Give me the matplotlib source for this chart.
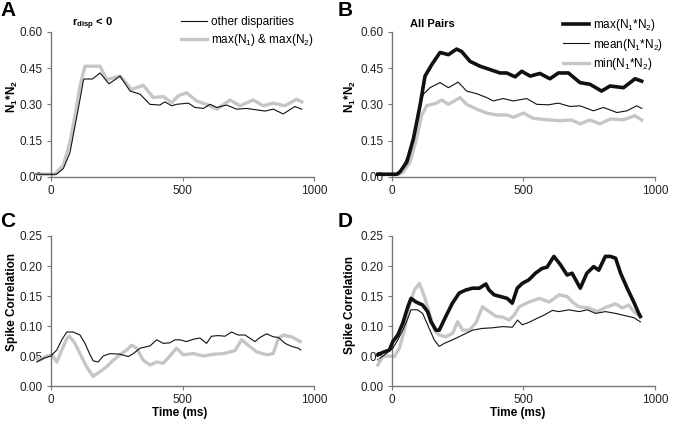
import matplotlib
matplotlib.use("Agg")
import matplotlib.pyplot as plt

plt.rcParams['font.family'] = ['Liberation Sans', 'DejaVu Sans']
plt.rcParams['mathtext.fontset'] = 'custom'
plt.rcParams['mathtext.rm'] = 'Liberation Sans'
plt.rcParams['mathtext.it'] = 'Liberation Sans:italic'
plt.rcParams['mathtext.bf'] = 'Liberation Sans:bold'

# ---- panel A: r_disp < 0 ----
a_other_t = [-55, 22, 48, 73, 92, 111, 124, 127, 158, 187, 221, 263, 301, 339, 376, 414, 433, 459,
             477, 522, 547, 579, 604, 630, 667, 705, 743, 781, 813, 844, 882, 926, 952]
a_other_v = [0.01, 0.01, 0.034, 0.10, 0.21, 0.32, 0.40, 0.405, 0.405, 0.43, 0.385, 0.417, 0.355, 0.342,
             0.30, 0.297, 0.31, 0.294, 0.30, 0.305, 0.287, 0.283, 0.30, 0.287, 0.297, 0.28, 0.283,
             0.277, 0.272, 0.28, 0.26, 0.291, 0.28]
a_max_t = [-55, 15, 48, 73, 92, 111, 130, 187, 212, 263, 307, 351, 389, 427, 459, 484, 515, 553, 591,
           630, 680, 718, 768, 806, 844, 888, 933, 952]
a_max_v = [0.01, 0.01, 0.048, 0.143, 0.253, 0.376, 0.458, 0.458, 0.403, 0.417, 0.362, 0.379, 0.328,
           0.332, 0.307, 0.335, 0.348, 0.314, 0.30, 0.28, 0.318, 0.294, 0.318, 0.294, 0.305, 0.294,
           0.321, 0.31]

# ---- panel B: all pairs ----
b_max_t = [-55, 20, 32, 58, 83, 108, 127, 153, 184, 216, 247, 266, 298, 336, 374, 412, 437, 469, 494,
           526, 563, 601, 633, 671, 715, 753, 797, 829, 880, 924, 949]
b_max_v = [0.01, 0.01, 0.02, 0.06, 0.157, 0.294, 0.417, 0.465, 0.515, 0.506, 0.529, 0.519, 0.478,
           0.458, 0.444, 0.43, 0.43, 0.414, 0.437, 0.417, 0.428, 0.406, 0.43, 0.43, 0.39, 0.383,
           0.355, 0.376, 0.369, 0.406, 0.396]
b_mean_t = [-55, 22, 39, 64, 89, 108, 121, 146, 184, 216, 253, 285, 323, 361, 386, 424, 462, 513, 551,
            595, 633, 677, 715, 766, 804, 855, 893, 930, 949]
b_mean_v = [0.01, 0.01, 0.034, 0.089, 0.198, 0.294, 0.342, 0.369, 0.39, 0.369, 0.392, 0.355, 0.344,
            0.328, 0.314, 0.324, 0.314, 0.324, 0.30, 0.298, 0.305, 0.291, 0.294, 0.273, 0.287, 0.266,
            0.273, 0.294, 0.283]
b_min_t = [-55, 30, 45, 70, 95, 114, 133, 171, 190, 216, 260, 285, 323, 361, 399, 437, 462, 500, 538,
           588, 639, 683, 715, 753, 791, 829, 880, 924, 949]
b_min_v = [0.01, 0.01, 0.02, 0.06, 0.157, 0.253, 0.294, 0.305, 0.318, 0.30, 0.328, 0.30, 0.28, 0.264,
           0.256, 0.256, 0.246, 0.264, 0.242, 0.236, 0.232, 0.235, 0.219, 0.235, 0.219, 0.239,
           0.236, 0.253, 0.235]

# ---- panel C: spike correlation, r_disp < 0 ----
c_other_t = [-53, -28, 0, 23, 42, 61, 85, 111, 130, 149, 161, 180, 199, 225, 263, 294, 313, 339, 377,
             402, 427, 452, 471, 490, 515, 541, 566, 591, 610, 636, 661, 686, 711, 737, 775, 794,
             819, 844, 863, 889, 914, 939, 948]
c_other_v = [0.04, 0.046, 0.05, 0.06, 0.077, 0.09, 0.09, 0.085, 0.071, 0.052, 0.042, 0.04, 0.05,
             0.054, 0.053, 0.049, 0.054, 0.063, 0.067, 0.077, 0.071, 0.072, 0.077, 0.077, 0.074,
             0.078, 0.08, 0.071, 0.083, 0.084, 0.083, 0.09, 0.085, 0.085, 0.074, 0.081, 0.087,
             0.082, 0.081, 0.071, 0.066, 0.063, 0.06]
c_max_t = [-60, -41, -15, 4, 23, 42, 61, 71, 92, 111, 136, 161, 187, 212, 237, 263, 288, 307, 326,
           351, 377, 402, 427, 452, 477, 503, 541, 579, 617, 655, 699, 724, 749, 781, 819, 844,
           863, 882, 914, 946]
c_max_v = [0.049, 0.043, 0.05, 0.052, 0.04, 0.06, 0.079, 0.083, 0.071, 0.054, 0.032, 0.016, 0.024,
           0.032, 0.043, 0.052, 0.06, 0.068, 0.063, 0.043, 0.035, 0.04, 0.038, 0.05, 0.063, 0.052,
           0.054, 0.05, 0.053, 0.054, 0.059, 0.077, 0.068, 0.057, 0.052, 0.054, 0.079, 0.085,
           0.082, 0.074]

# ---- panel D: spike correlation, all pairs ----
d_max_t = [-52, -33, -8, 5, 24, 43, 62, 74, 93, 118, 137, 150, 169, 181, 206, 231, 257, 282, 307, 333,
           358, 370, 389, 414, 439, 458, 477, 496, 521, 546, 571, 590, 616, 641, 666, 685, 716,
           741, 767, 786, 811, 830, 850, 869, 894, 919, 938, 944]
d_max_v = [0.052, 0.056, 0.06, 0.074, 0.085, 0.105, 0.132, 0.146, 0.14, 0.135, 0.124, 0.107, 0.093,
           0.093, 0.116, 0.138, 0.155, 0.16, 0.163, 0.163, 0.17, 0.16, 0.152, 0.149, 0.146, 0.138,
           0.163, 0.171, 0.177, 0.188, 0.196, 0.198, 0.216, 0.202, 0.185, 0.188, 0.163, 0.188,
           0.199, 0.193, 0.216, 0.216, 0.213, 0.188, 0.163, 0.14, 0.121, 0.116]
d_mean_t = [-45, -20, 5, 24, 43, 62, 74, 99, 118, 137, 162, 181, 200, 232, 270, 307, 345, 383, 421,
            459, 478, 496, 521, 553, 578, 610, 635, 673, 711, 743, 774, 812, 850, 888, 919, 944]
d_mean_v = [0.046, 0.054, 0.063, 0.077, 0.093, 0.113, 0.127, 0.127, 0.121, 0.102, 0.077, 0.066,
            0.071, 0.077, 0.085, 0.093, 0.096, 0.097, 0.099, 0.098, 0.11, 0.102, 0.106, 0.113,
            0.118, 0.126, 0.124, 0.127, 0.124, 0.127, 0.121, 0.124, 0.121, 0.117, 0.114, 0.107]
d_min_t = [-52, -33, -14, 11, 30, 49, 68, 87, 106, 125, 144, 163, 181, 206, 232, 251, 270, 295, 320,
           345, 370, 396, 421, 446, 465, 484, 522, 560, 598, 636, 667, 686, 711, 749, 781, 812,
           850, 875, 900, 919, 944]
d_min_v = [0.035, 0.049, 0.05, 0.049, 0.063, 0.093, 0.135, 0.16, 0.171, 0.149, 0.121, 0.093, 0.085,
           0.082, 0.088, 0.107, 0.093, 0.093, 0.105, 0.132, 0.124, 0.116, 0.115, 0.11, 0.118,
           0.132, 0.14, 0.146, 0.14, 0.152, 0.149, 0.14, 0.132, 0.13, 0.124, 0.131, 0.137, 0.13,
           0.135, 0.124, 0.115]

x_ticks = [0, 500, 1000]
top_ticks = [0.0, 0.15, 0.30, 0.45, 0.60]
bot_ticks = [0.0, 0.05, 0.10, 0.15, 0.20, 0.25]

BLACK = '#111111'
GRAY = '#c6c6c6'
AXC = '#777777'


def style(ax, yticks, ylim):
    ax.set_xlim(-60, 1000)
    ax.set_ylim(*ylim)
    for s in ['top', 'right']:
        ax.spines[s].set_visible(False)
    ax.spines['left'].set_position(('data', 0))
    ax.spines['bottom'].set_bounds(0, 1000)
    ax.spines['left'].set_color(AXC)
    ax.spines['bottom'].set_color(AXC)
    ax.spines['left'].set_linewidth(1.0)
    ax.spines['bottom'].set_linewidth(1.0)
    ax.set_xticks(x_ticks)
    ax.set_yticks(yticks)
    ax.set_yticklabels(['%.2f' % v for v in yticks])
    ax.tick_params(axis='both', direction='out', length=3, width=0.8, color=AXC,
                   labelsize=8.5, labelcolor='#222222', pad=3)
    ax.set_facecolor('none')


fig = plt.figure(figsize=(6.74, 4.24), dpi=100)

axA = fig.add_axes([0.0518, 0.5833, 0.4146, 0.3413])
axB = fig.add_axes([0.5574, 0.5833, 0.4146, 0.3413])
axC = fig.add_axes([0.0518, 0.0896, 0.4146, 0.3538])
axD = fig.add_axes([0.5574, 0.0896, 0.4146, 0.3538])

# A
axA.plot(a_max_t, a_max_v, color=GRAY, lw=2.4, label=r'max(N$_1$) & max(N$_2$)', zorder=2)
axA.plot(a_other_t, a_other_v, color=BLACK, lw=0.8, label='other disparities', zorder=3)
style(axA, top_ticks, (0, 0.6))
h, l = axA.get_legend_handles_labels()
axA.legend(h[::-1], l[::-1], loc='upper left', bbox_to_anchor=(181 / 674, 1 - 16 / 424),
           bbox_transform=fig.transFigure, frameon=False, fontsize=8.5, handlelength=2.2,
           handletextpad=0.3, labelspacing=0.35, borderaxespad=0, borderpad=0)

# B
axB.plot(b_min_t, b_min_v, color=GRAY, lw=2.4, label=r'min(N$_1$*N$_2$)', zorder=2)
axB.plot(b_mean_t, b_mean_v, color=BLACK, lw=0.8, label=r'mean(N$_1$*N$_2$)', zorder=3)
axB.plot(b_max_t, b_max_v, color=BLACK, lw=2.6, label=r'max(N$_1$*N$_2$)', zorder=4)
style(axB, top_ticks, (0, 0.6))
h, l = axB.get_legend_handles_labels()
axB.legend(h[::-1], l[::-1], loc='upper left', bbox_to_anchor=(563 / 674, 1 - 17 / 424),
           bbox_transform=fig.transFigure, frameon=False, fontsize=8.5, handlelength=2.2,
           handletextpad=0.3, labelspacing=0.3, borderaxespad=0, borderpad=0)

# C
axC.plot(c_max_t, c_max_v, color=GRAY, lw=2.4, zorder=2)
axC.plot(c_other_t, c_other_v, color=BLACK, lw=0.8, zorder=3)
style(axC, bot_ticks, (0, 0.25))

# D
axD.plot(d_min_t, d_min_v, color=GRAY, lw=2.4, zorder=2)
axD.plot(d_mean_t, d_mean_v, color=BLACK, lw=0.8, zorder=3)
axD.plot(d_max_t, d_max_v, color=BLACK, lw=2.6, zorder=4)
style(axD, bot_ticks, (0, 0.25))

# axis labels
for x, yc in [(12 / 674, 302), (350 / 674, 305)]:
    fig.text(x, 1 - 97 / 424, r'N$_\mathbf{1}$*N$_\mathbf{2}$', rotation=90, ha='center', va='center',
             fontsize=8.5, fontweight='bold')
    fig.text(x, 1 - yc / 424, 'Spike Correlation', rotation=90, ha='center', va='center',
             fontsize=8.5, fontweight='bold')
fig.text(180 / 674, 1 - 413 / 424, 'Time (ms)', ha='center', va='center', fontsize=8.5, fontweight='bold')
fig.text(518 / 674, 1 - 413 / 424, 'Time (ms)', ha='center', va='center', fontsize=8.5, fontweight='bold')

# panel letters and titles
for lab, x, y in [('A', 0, 1), ('B', 338, 1), ('C', 0, 212), ('D', 338, 212)]:
    fig.text(x / 674, 1 - y / 424, lab, ha='left', va='top', fontsize=15, fontweight='bold')
fig.text(72 / 674, 1 - 24 / 424, r'$\mathbf{r_{disp}}$ < 0', ha='left', va='center',
         fontsize=8, fontweight='bold')
fig.text(410 / 674, 1 - 24 / 424, 'All Pairs', ha='left', va='center', fontsize=8, fontweight='bold')

fig.savefig('out.png', dpi=100)
